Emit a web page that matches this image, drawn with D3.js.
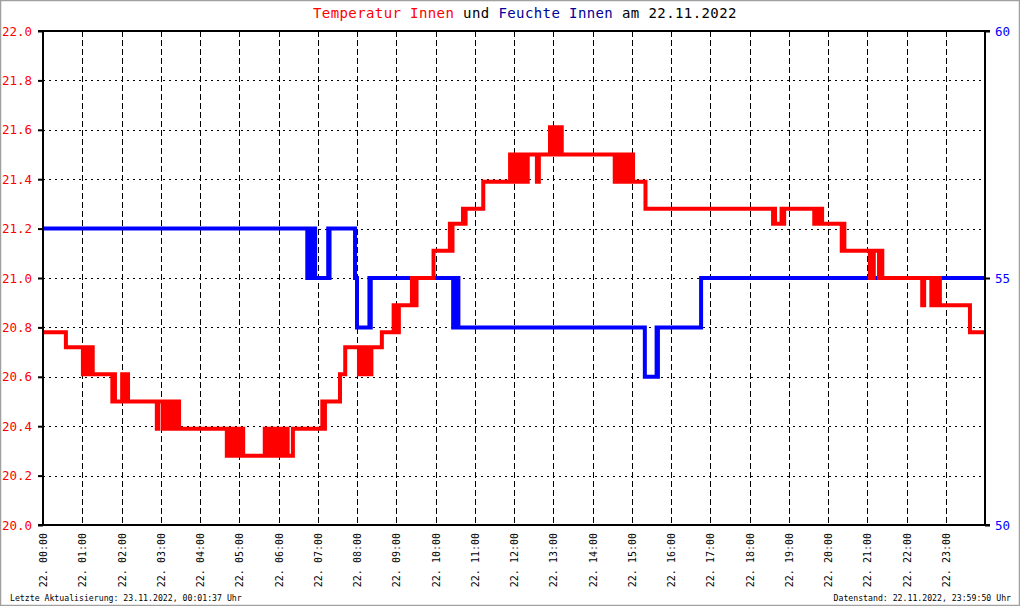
<!DOCTYPE html>
<html><head><meta charset="utf-8">
<script src="https://cdn.jsdelivr.net/npm/d3@7"></script>
<style>
html,body{margin:0;padding:0;background:#fff;}
svg{display:block;}
text{font-family:"DejaVu Sans Mono",monospace;}
</style></head>
<body>
<script>
// ---- data ----
const tempTimes = ["00:00","00:35","01:01","01:03","01:05","01:07","01:10","01:12","01:16","01:46","01:48","01:50",
"02:01","02:03","02:05","02:07","02:09","02:10","02:54","02:56","03:03","03:05","03:07","03:09","03:14","03:16","03:19","03:21","03:24","03:26","03:28",
"04:41","04:43","04:46","04:48","04:52","04:54","04:57","05:00","05:03","05:05","05:06",
"05:39","05:41","05:43","05:46","05:48","05:51","05:53","05:56","05:58","06:01","06:03","06:06","06:12","06:14","06:22",
"07:07","07:09","07:11","07:34","07:42","08:03","08:05","08:08","08:10","08:13","08:16","08:20","08:22","08:38",
"08:56","08:58","09:00","09:02","09:04","09:24","09:26","09:28","09:30","09:31","09:57","10:22","10:24","10:26","10:42","10:44","10:46","11:13",
"11:54","11:56","11:58","12:00","12:03","12:05","12:07","12:09","12:12","12:17","12:21","12:35","12:38",
"12:55","12:58","13:00","13:06","13:08","13:13",
"14:34","14:37","14:40","14:42","14:45","14:48","14:51","14:54","14:57","15:00","15:02","15:21",
"18:36","18:38","18:39","18:49","18:51","18:53","19:39","19:42","19:45","19:48","19:51",
"20:21","20:23","20:25","21:04","21:06","21:08","21:10","21:18","21:20","21:23",
"22:24","22:27","22:38","22:40","22:42","22:44","22:46","22:48","22:51","23:37","23:59"];
const tempValues = [20.78,20.72,20.61,20.72,20.61,20.72,20.61,20.72,20.61,20.5,20.61,20.5,
20.61,20.5,20.61,20.5,20.61,20.5,20.39,20.5,20.39,20.5,20.39,20.5,20.39,20.5,20.39,20.5,20.39,20.5,20.39,
20.28,20.39,20.28,20.39,20.28,20.39,20.28,20.39,20.28,20.39,20.28,
20.39,20.28,20.39,20.28,20.39,20.28,20.39,20.28,20.39,20.28,20.39,20.28,20.39,20.28,20.39,
20.5,20.39,20.5,20.61,20.72,20.61,20.72,20.61,20.72,20.61,20.72,20.61,20.72,20.78,
20.89,20.78,20.89,20.78,20.89,21.0,20.89,21.0,20.89,21.0,21.11,21.22,21.11,21.22,21.28,21.22,21.28,21.39,
21.5,21.39,21.5,21.39,21.5,21.39,21.5,21.39,21.5,21.39,21.5,21.39,21.5,
21.61,21.5,21.61,21.5,21.61,21.5,
21.39,21.5,21.39,21.5,21.39,21.5,21.39,21.5,21.39,21.5,21.39,21.28,
21.22,21.28,21.22,21.28,21.22,21.28,21.22,21.28,21.22,21.28,21.22,
21.11,21.22,21.11,21.0,21.11,21.0,21.11,21.0,21.11,21.0,
20.89,21.0,20.89,21.0,20.89,21.0,20.89,21.0,20.89,20.78,20.78];

const humTimes = ["00:00","06:44","06:46","06:48","06:50","06:52","06:54","06:56","07:16","07:17","07:18","07:57","08:00",
"08:19","08:20","08:21","10:27","10:29","10:31","10:33","10:35","15:20","15:38","15:39","15:40","16:46","23:59"];
const humValues = [56,55,56,55,56,55,56,55,56,55,56,55,54,55,54,55,54,55,54,55,54,53,54,53,54,55,55];

const tempTicks = [20.0,20.2,20.4,20.6,20.8,21.0,21.2,21.4,21.6,21.8,22.0];
const humTicks = [50,55,60];
const hourLabels = ["22. 00:00","22. 01:00","22. 02:00","22. 03:00","22. 04:00","22. 05:00","22. 06:00","22. 07:00",
"22. 08:00","22. 09:00","22. 10:00","22. 11:00","22. 12:00","22. 13:00","22. 14:00","22. 15:00",
"22. 16:00","22. 17:00","22. 18:00","22. 19:00","22. 20:00","22. 21:00","22. 22:00","22. 23:00"];

// ---- chart ----
const W = 1020, H = 606;
const L = 43, R = 985, T = 31, B = 525;
const toH = s => { const p = s.split(":"); return +p[0] + (+p[1]) / 60; };
const tempData = tempTimes.map((t, i) => ({x: toH(t), y: tempValues[i]}));
const humData = humTimes.map((t, i) => ({x: toH(t), y: humValues[i]}));

const x = d3.scaleLinear().domain([0, 24]).range([L, R]);
const yT = d3.scaleLinear().domain([20, 22]).range([B, T]);
const yH = d3.scaleLinear().domain([50, 60]).range([B, T]);

const svg = d3.select("body").append("svg").attr("width", W).attr("height", H);
svg.append("rect").attr("x", 0.5).attr("y", 0.5).attr("width", W - 1).attr("height", H - 1)
  .attr("fill", "#fff").attr("stroke", "#a0a0a0").attr("stroke-width", 1.5);

// grid
const g = svg.append("g");
g.selectAll(".hg").data(tempTicks.slice(1, -1)).join("line")
  .attr("x1", L).attr("x2", R).attr("y1", d => Math.round(yT(d)) + 0.5).attr("y2", d => Math.round(yT(d)) + 0.5)
  .attr("stroke", "#000").attr("stroke-width", 1).attr("stroke-dasharray", "2,4");
g.selectAll(".vg").data(d3.range(1, 24)).join("line")
  .attr("x1", d => Math.round(x(d)) + 0.5).attr("x2", d => Math.round(x(d)) + 0.5).attr("y1", T).attr("y2", B)
  .attr("stroke", "#000").attr("stroke-width", 1).attr("stroke-dasharray", "6,3");

// lines
const clip = svg.append("clipPath").attr("id", "c").append("rect")
  .attr("x", L).attr("y", T - 3).attr("width", R - L).attr("height", B - T + 6);
const lineH = d3.line().x(d => x(d.x)).y(d => yH(d.y)).curve(d3.curveStepAfter);
const lineT = d3.line().x(d => x(d.x)).y(d => yT(d.y)).curve(d3.curveStepAfter);
svg.append("path").datum(humData).attr("d", lineH).attr("fill", "none")
  .attr("stroke", "#0000ff").attr("stroke-width", 4).attr("clip-path", "url(#c)");
svg.append("path").datum(tempData).attr("d", lineT).attr("fill", "none")
  .attr("stroke", "#ff0000").attr("stroke-width", 4).attr("clip-path", "url(#c)");

// axes frame
const ax = svg.append("g").attr("stroke", "#000").attr("stroke-width", 2);
ax.append("line").attr("x1", L).attr("x2", L).attr("y1", T).attr("y2", B);
ax.append("line").attr("x1", R).attr("x2", R).attr("y1", T).attr("y2", B);
ax.append("line").attr("x1", L - 5).attr("x2", R + 5).attr("y1", T).attr("y2", T);
ax.append("line").attr("x1", L - 5).attr("x2", R + 5).attr("y1", B).attr("y2", B);

// left axis
const leftAxis = d3.axisLeft(yT).tickValues(tempTicks).tickFormat(d3.format(".1f")).tickSize(5).tickPadding(6);
const la = svg.append("g").attr("transform", `translate(${L},0)`).call(leftAxis);
la.select(".domain").remove();
la.selectAll("line").attr("stroke", "#000").attr("stroke-width", 2);
la.selectAll("text").attr("fill", "#ff0000").attr("font-size", 12.5).attr("font-family", "DejaVu Sans Mono");

// right axis
const rightAxis = d3.axisRight(yH).tickValues(humTicks).tickFormat(d3.format("d")).tickSize(5).tickPadding(5);
const ra = svg.append("g").attr("transform", `translate(${R},0)`).call(rightAxis);
ra.select(".domain").remove();
ra.selectAll("line").attr("stroke", "#000").attr("stroke-width", 2);
ra.selectAll("text").attr("fill", "#0000ff").attr("font-size", 12.5).attr("font-family", "DejaVu Sans Mono");

// bottom labels
const bottomAxis = d3.axisBottom(x).tickValues(d3.range(0, 24)).tickFormat((d, i) => hourLabels[i]).tickSize(0);
const ba = svg.append("g").attr("transform", `translate(0,${B})`).call(bottomAxis);
ba.select(".domain").remove();
ba.selectAll("text").attr("font-size", 10).attr("fill", "#000").attr("font-family", "DejaVu Sans Mono")
  .attr("text-anchor", "end").attr("dy", "0.35em")
  .attr("transform", "translate(0,8) rotate(-90)").attr("x", 0).attr("y", 0);

// title
const title = svg.append("text").attr("x", 313).attr("y", 18).attr("font-size", 14).attr("letter-spacing", 0.4);
[["Temperatur Innen", "#ff0000"], [" und ", "#000"], ["Feuchte Innen", "#000099"], [" am 22.11.2022", "#000"]]
  .forEach(([t, c]) => title.append("tspan").attr("fill", c).attr("xml:space", "preserve").text(t));
title.style("white-space", "pre");

// footer
svg.append("text").attr("x", 10).attr("y", 601).attr("font-size", 8.2).attr("fill", "#000")
  .text("Letzte Aktualisierung: 23.11.2022, 00:01:37 Uhr");
svg.append("text").attr("x", 1011).attr("y", 601).attr("font-size", 8.2).attr("fill", "#000").attr("text-anchor", "end")
  .text("Datenstand: 22.11.2022, 23:59:50 Uhr");
</script>
</body></html>
